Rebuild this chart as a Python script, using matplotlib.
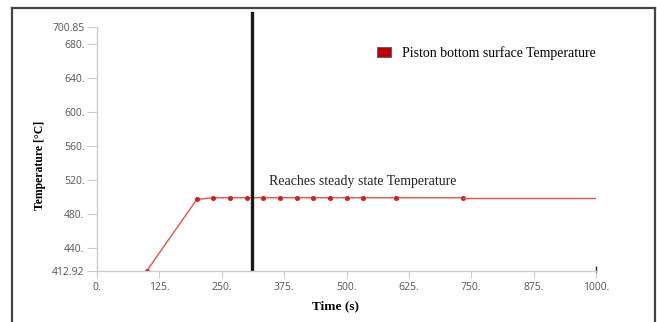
import matplotlib.pyplot as plt
from matplotlib.lines import Line2D

# data
time_s = [100, 200, 233, 267, 300, 333, 367, 400, 433, 467, 500, 533, 600, 733, 1000]
temp_c = [412.92, 497.0, 499.0, 499.0, 499.0, 499.0, 499.0, 499.0, 499.0, 499.0,
          499.0, 499.0, 499.0, 499.0, 499.0]
steady_time = 310
x_ticks = [0, 125, 250, 375, 500, 625, 750, 875, 1000]
x_tick_labels = ['0.', '125.', '250.', '375.', '500.', '625.', '750.', '875.', '1000.']
y_ticks = [412.92, 440, 480, 520, 560, 600, 640, 680, 700.85]
y_tick_labels = ['412.92', '440.', '480.', '520.', '560.', '600.', '640.', '680.', '700.85']

W, H = 657, 322
SERIF = ['Liberation Serif', 'DejaVu Serif']
TICK_FONT = ['Open Sans', 'DejaVu Sans']

fig = plt.figure(figsize=(W / 100, H / 100), dpi=100)
fig.patch.set_facecolor('white')

# outer frame (left, top, right edges)
fx0, fx1 = 12 / W, 655 / W
fy1 = 1 - 8 / H
for xs, ys in [([fx0, fx0], [0, fy1]), ([fx0, fx1], [fy1, fy1]), ([fx1, fx1], [fy1, 0])]:
    fig.add_artist(Line2D(xs, ys, color='#444444', lw=1.6, transform=fig.transFigure))

ax = fig.add_axes([97 / W, 1 - 270.7 / H, (596 - 97) / W, (270.7 - 26.7) / H])
ax.plot(time_s[:-1], temp_c[:-1], color='#e8504a', lw=1.0, marker='o', ms=2.6,
        mfc='#d02020', mec='#d02020')
ax.plot(time_s[-2:], temp_c[-2:], color='#e8504a', lw=1.0)
ax.set_xlim(0, 1000)
ax.set_ylim(412.92, 700.85)

# steady state marker line, extends above the plot area
ax.axvline(steady_time, ymin=0.007, ymax=(270.7 - 13) / 244, color='#1a1a1a', lw=2.4, clip_on=False)
ax.text(345, 518, 'Reaches steady state Temperature', family=SERIF, fontsize=10,
        color='#222222', va='center', ha='left')

for s in ['top', 'right']:
    ax.spines[s].set_visible(False)
for s in ['left', 'bottom']:
    ax.spines[s].set_color('#cccccc')
    ax.spines[s].set_linewidth(1.0)

ax.set_xticks(x_ticks)
ax.set_xticklabels(x_tick_labels)
ax.set_yticks(y_ticks)
ax.set_yticklabels(y_tick_labels)
ax.tick_params(axis='y', length=7, width=0.8, color='#cccccc', pad=2)
ax.tick_params(axis='x', length=5, width=0.8, color='#cccccc', pad=3)
for lab in ax.get_xticklabels() + ax.get_yticklabels():
    lab.set_family(TICK_FONT)
    lab.set_fontsize(7.5)
    lab.set_color('#555555')

# small end mark on x axis
ax.plot([1000], [412.92 + 1.5], marker='|', color='#222222', ms=4, clip_on=False)

ax.set_xlabel('Time (s)', family=SERIF, fontsize=9.5, fontweight='bold', va='center')
ax.xaxis.set_label_coords((336 - 97) / 499, (270.7 - 306.7) / 244)
ax.set_ylabel('Temperature [\u00b0C]', family=SERIF, fontsize=8.5, fontweight='bold', va='center')
ax.yaxis.set_label_coords((40 - 97) / 499, (270.7 - 165) / 244)

handle = plt.Rectangle((0, 0), 1, 1, facecolor='#c00000', edgecolor='#555577', lw=0.6)
ax.legend([handle], ['Piston bottom surface Temperature'], loc='center left',
          bbox_to_anchor=((377 - 97) / 499, (270.7 - 53) / 244), frameon=False,
          prop={'family': SERIF, 'size': 10}, handlelength=1.0, handleheight=0.7,
          handletextpad=0.8, borderaxespad=0, borderpad=0)

fig.savefig('out.png', dpi=100, facecolor='white')
